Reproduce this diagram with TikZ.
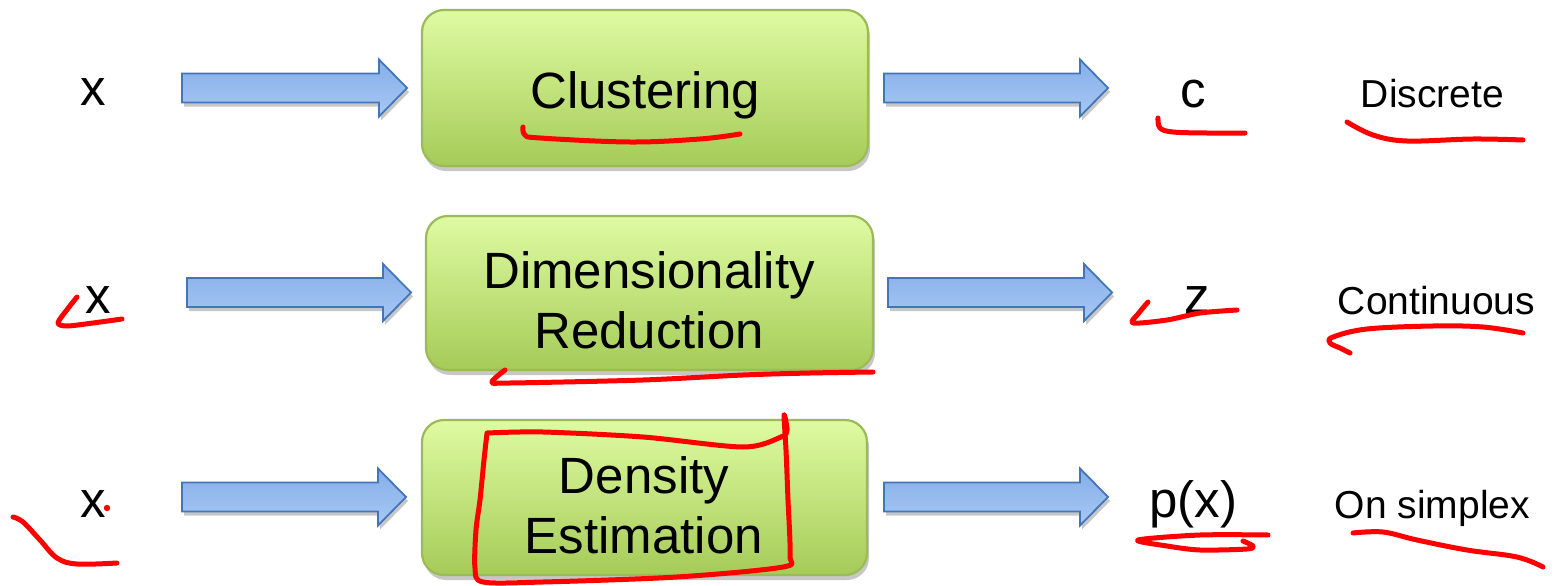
\documentclass[tikz,border=0pt]{standalone}
\usepackage{fontspec}
\setmainfont{Liberation Sans}
\usetikzlibrary{shadows}
\definecolor{boxtop}{HTML}{DEFBA2}
\definecolor{boxbot}{HTML}{A6CB58}
\definecolor{boxline}{HTML}{9BBB59}
\definecolor{arrtop}{HTML}{86AEE8}
\definecolor{arrbot}{HTML}{A6C8F4}
\definecolor{arrline}{HTML}{4276B8}
\definecolor{ink}{HTML}{FF0000}
\newcommand{\blkarrow}[3]{%
  \path[arrowstyle] (#1,#3-14.5) -- (#2-28,#3-14.5) -- (#2-28,#3-28.5) -- (#2,#3)
    -- (#2-28,#3+28.5) -- (#2-28,#3+14.5) -- (#1,#3+14.5) -- cycle;}
\begin{document}
\begin{tikzpicture}[x=1pt,y=-1pt,
  procbox/.style={draw=boxline, line width=2.2pt, rounded corners=22pt, inner sep=0pt,
    top color=boxtop, bottom color=boxbot,
    drop shadow={shadow xshift=2pt, shadow yshift=-5pt, opacity=0.22, fill=black}},
  arrowstyle/.style={draw=arrline, line width=1.8pt, line join=miter,
    top color=arrtop, bottom color=arrbot,
    drop shadow={shadow xshift=2pt, shadow yshift=-4pt, opacity=0.22, fill=black}},
  big/.style={inner sep=0pt, font=\fontsize{51}{60}\selectfont, text=black},
  small/.style={inner sep=0pt, font=\fontsize{39}{46}\selectfont, text=black},
  redink/.style={draw=ink, line width=5pt, line cap=round, line join=round}]
\useasboundingbox[fill=white] (0,0) rectangle (1556,586);

% boxes
\node[procbox, minimum width=446pt, minimum height=156pt] (b1) at (645,88) {};
\node[procbox, minimum width=447pt, minimum height=154pt] (b2) at (649.5,293) {};
\node[procbox, minimum width=445pt, minimum height=155pt] (b3) at (644.5,497.5) {};

\node[big, anchor=base] (t1) at (645,108) {Clustering};
\node[big, anchor=north, align=center] (t2) at (649,251.5) {Dimensionality\\Reduction};
\node[big, anchor=north, align=center] (t3) at (644,456.5) {Density\\Estimation};

% arrows
\blkarrow{182}{407}{88}
\blkarrow{884}{1108}{88}
\blkarrow{187}{411}{292.5}
\blkarrow{888}{1112}{292.5}
\blkarrow{182}{406}{497}
\blkarrow{884}{1108}{497}

% inputs / outputs
\node[big, anchor=base] (x1) at (93,106) {x};
\node[big, anchor=base] (x2) at (98,313) {x};
\node[big, anchor=base] (x3) at (93,517) {x};
\node[big, anchor=base] (c) at (1193,107) {c};
\node[big, anchor=base] (z) at (1197,313) {z};
\node[big, anchor=base] (px) at (1193.5,517) {p(x)};
\node[small, anchor=base] (d1) at (1432.5,107) {Discrete};
\node[small, anchor=base] (d2) at (1436.5,314) {Continuous};
\node[small, anchor=base] (d3) at (1432.5,518) {On simplex};

% red ink annotations
\draw[redink] plot[smooth, tension=0.6] coordinates {(523,127) (525,135) (540,138) (630,142) (700,139) (740,134)};
\draw[redink] plot[smooth, tension=0.6] coordinates {(1158,118) (1160,128) (1173,132) (1207,133) (1245,133)};
\draw[redink] plot[smooth, tension=0.6] coordinates {(1347,122) (1373,135) (1407,141) (1473,139) (1523,140)};
\draw[redink] plot[smooth, tension=0.5] coordinates {(77,297) (66,311) (58,323) (67,326) (93,323) (122,319)};
\draw[redink] plot[smooth, tension=0.5] coordinates {(505,370) (492,382) (510,383) (643,380) (743,375) (810,373) (873,372)};
\draw[redink] plot[smooth, tension=0.5] coordinates {(1148,302) (1138,314) (1133,323) (1167,320) (1200,313) (1237,310)};
\draw[redink] plot[smooth, tension=0.6] coordinates {(1523,333) (1483,327) (1433,326) (1367,329) (1333,337) (1330,343) (1340,348) (1350,353)};
\draw[redink] plot[smooth, tension=0.5] coordinates {(487,433) (543,432) (643,437) (743,447) (781,437) (787,430) (784,415) (786,450) (788,500) (790,555) (783,567) (677,577) (543,582) (483,582) (475,568) (476,530) (480,500) (484,460) (487,433)};
\fill[ink] (107,508) circle (3.2pt);
\draw[redink] plot[smooth, tension=0.6] coordinates {(13,517) (23,522) (40,540) (57,558) (77,564) (117,563)};
\draw[redink] plot[smooth, tension=0.5] coordinates {(1268,535) (1200,535) (1138,540) (1167,546) (1200,550) (1247,549) (1253,546) (1243,541)};
\draw[redink] plot[smooth, tension=0.6] coordinates {(1353,533) (1383,532) (1417,540) (1467,550) (1517,557) (1543,567)};
\end{tikzpicture}
\end{document}
